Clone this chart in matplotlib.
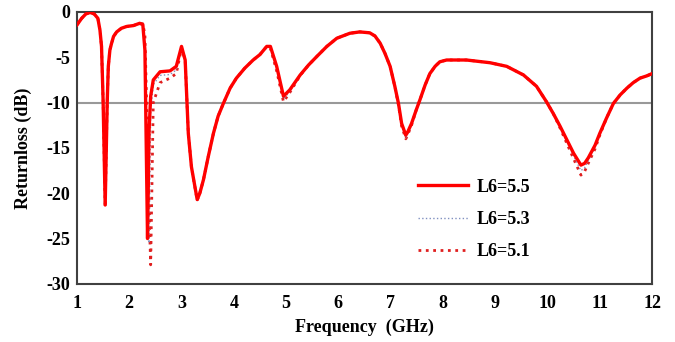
import matplotlib
matplotlib.use("Agg")
from matplotlib import pyplot as plt

# frequency grid (GHz), shared by the three curves
freq = [1.0, 1.09, 1.17, 1.25, 1.33, 1.40, 1.44, 1.47, 1.50, 1.54,
        1.58, 1.60, 1.63, 1.66, 1.70, 1.76, 1.85, 1.95, 2.08, 2.2,
        2.26, 2.3, 2.35, 2.38, 2.41, 2.46, 2.59, 2.78, 2.9, 3.0,
        3.07, 3.13, 3.19, 3.3, 3.35, 3.42, 3.51, 3.61, 3.7, 3.8,
        3.93, 4.05, 4.21, 4.37, 4.5, 4.63, 4.7, 4.82, 4.95, 5.07,
        5.27, 5.43, 5.59, 5.78, 5.97, 6.22, 6.41, 6.6, 6.7, 6.8,
        6.89, 6.99, 7.08, 7.15, 7.21, 7.29, 7.33, 7.4, 7.49, 7.56,
        7.66, 7.75, 7.85, 7.94, 8.07, 8.45, 8.9, 9.22, 9.54, 9.79,
        9.98, 10.11, 10.24, 10.37, 10.5, 10.64, 10.71, 10.78, 10.91, 11.0,
        11.13, 11.26, 11.39, 11.52, 11.64, 11.77, 11.9, 12.0]

# return loss (dB) for each L6 value
rl_55 = [-1.43, -0.7, -0.22, -0.05, -0.22, -0.7, -2.0, -3.8, -9.7, -21.3,
         -9.7, -6.0, -4.2, -3.5, -2.7, -2.2, -1.8, -1.6, -1.5, -1.25,
         -1.4, -4.2, -25.0, -13.0, -9.3, -7.5, -6.6, -6.5, -6.0, -3.8,
         -5.3, -13.4, -17.1, -20.7, -20.0, -18.5, -16.0, -13.4, -11.5, -10.1,
         -8.4, -7.3, -6.2, -5.3, -4.7, -3.8, -3.8, -6.0, -9.3, -8.6,
         -6.95, -5.85, -4.9, -3.8, -2.9, -2.35, -2.2, -2.3, -2.65, -3.45,
         -4.55, -6.0, -8.2, -10.1, -12.3, -13.6, -13.2, -12.3, -10.8, -9.7,
         -8.05, -6.8, -6.0, -5.5, -5.3, -5.3, -5.6, -6.0, -6.95, -8.2,
         -9.9, -11.2, -12.6, -14.1, -15.6, -16.9, -16.7, -16.1, -14.7, -13.4,
         -11.7, -10.1, -9.15, -8.4, -7.8, -7.3, -7.05, -6.8]
rl_53 = [-1.43, -0.7, -0.22, -0.05, -0.22, -0.7, -2.0, -3.8, -9.7, -21.4,
         -9.7, -6.0, -4.2, -3.5, -2.7, -2.2, -1.8, -1.6, -1.5, -1.25,
         -1.35, -3.5, -22.0, -25.5, -11.0, -8.0, -7.0, -6.9, -6.4, -3.9,
         -5.3, -13.4, -17.1, -20.8, -20.0, -18.5, -16.0, -13.4, -11.5, -10.1,
         -8.4, -7.3, -6.2, -5.3, -4.7, -3.8, -3.9, -6.2, -9.6, -8.8,
         -7.0, -5.85, -4.9, -3.8, -2.9, -2.35, -2.2, -2.3, -2.65, -3.45,
         -4.55, -6.0, -8.2, -10.2, -12.5, -13.9, -13.4, -12.4, -10.8, -9.7,
         -8.05, -6.8, -6.0, -5.5, -5.3, -5.3, -5.6, -6.0, -6.95, -8.2,
         -9.9, -11.2, -12.7, -14.3, -15.9, -17.5, -17.2, -16.4, -14.9, -13.5,
         -11.7, -10.1, -9.15, -8.4, -7.8, -7.3, -7.05, -6.8]
rl_51 = [-1.43, -0.7, -0.22, -0.05, -0.22, -0.7, -2.0, -3.8, -9.7, -21.5,
         -9.7, -6.0, -4.2, -3.5, -2.7, -2.2, -1.8, -1.6, -1.5, -1.25,
         -1.3, -2.5, -14.0, -22.0, -27.9, -10.0, -7.8, -7.3, -6.8, -4.0,
         -5.3, -13.4, -17.1, -20.8, -20.0, -18.5, -16.0, -13.4, -11.5, -10.1,
         -8.4, -7.3, -6.2, -5.3, -4.7, -3.8, -4.0, -6.5, -9.9, -8.9,
         -7.0, -5.85, -4.9, -3.8, -2.9, -2.35, -2.2, -2.3, -2.65, -3.45,
         -4.55, -6.0, -8.2, -10.3, -12.6, -14.0, -13.5, -12.5, -10.8, -9.7,
         -8.05, -6.8, -6.0, -5.5, -5.3, -5.3, -5.6, -6.0, -6.95, -8.2,
         -9.9, -11.2, -12.8, -14.5, -16.2, -18.0, -17.6, -16.7, -15.1, -13.6,
         -11.7, -10.1, -9.15, -8.4, -7.8, -7.3, -7.05, -6.8]

x_ticks = list(range(1, 13))
y_ticks = [0, -5, -10, -15, -20, -25, -30]

plt.rcParams["font.family"] = "Liberation Serif"
plt.rcParams["font.weight"] = "bold"
plt.rcParams["axes.unicode_minus"] = False

fig = plt.figure(figsize=(6.75, 3.42), dpi=100)
ax = fig.add_axes([0.114, 0.170, 0.852, 0.795])

ax.axhline(-10, color="#999999", lw=1.5, zorder=1)
ax.plot(freq, rl_55, color="#ff0000", lw=2.4, label="L6=5.5", zorder=4)
ax.plot(freq, rl_53, color="#8090c0", lw=1.0, ls=":", label="L6=5.3", zorder=3)
ax.plot(freq, rl_51, color="#e02020", lw=2.0, ls=":", label="L6=5.1", zorder=2)

ax.set_xlim(1, 12)
ax.set_ylim(-30, 0)
ax.set_xticks(x_ticks)
ax.set_yticks(y_ticks)
ax.tick_params(length=0, labelsize=13)
ax.tick_params(axis="x", pad=8)
ax.tick_params(axis="y", pad=5)
for s in ax.spines.values():
    s.set_color("#404040")
    s.set_linewidth(1.5)

ax.set_xlabel("Frequency  (GHz)", fontsize=13, fontweight="bold", labelpad=5)
ax.set_ylabel("Returnloss (dB)", fontsize=13, fontweight="bold", labelpad=10)

ax.legend(loc="upper left", bbox_to_anchor=(0.619, 0.478), bbox_transform=fig.transFigure,
          frameon=False, fontsize=13, handlelength=2.8, handletextpad=0.45,
          labelspacing=0.85, borderpad=0, borderaxespad=0)

fig.savefig("out.png", dpi=100)
